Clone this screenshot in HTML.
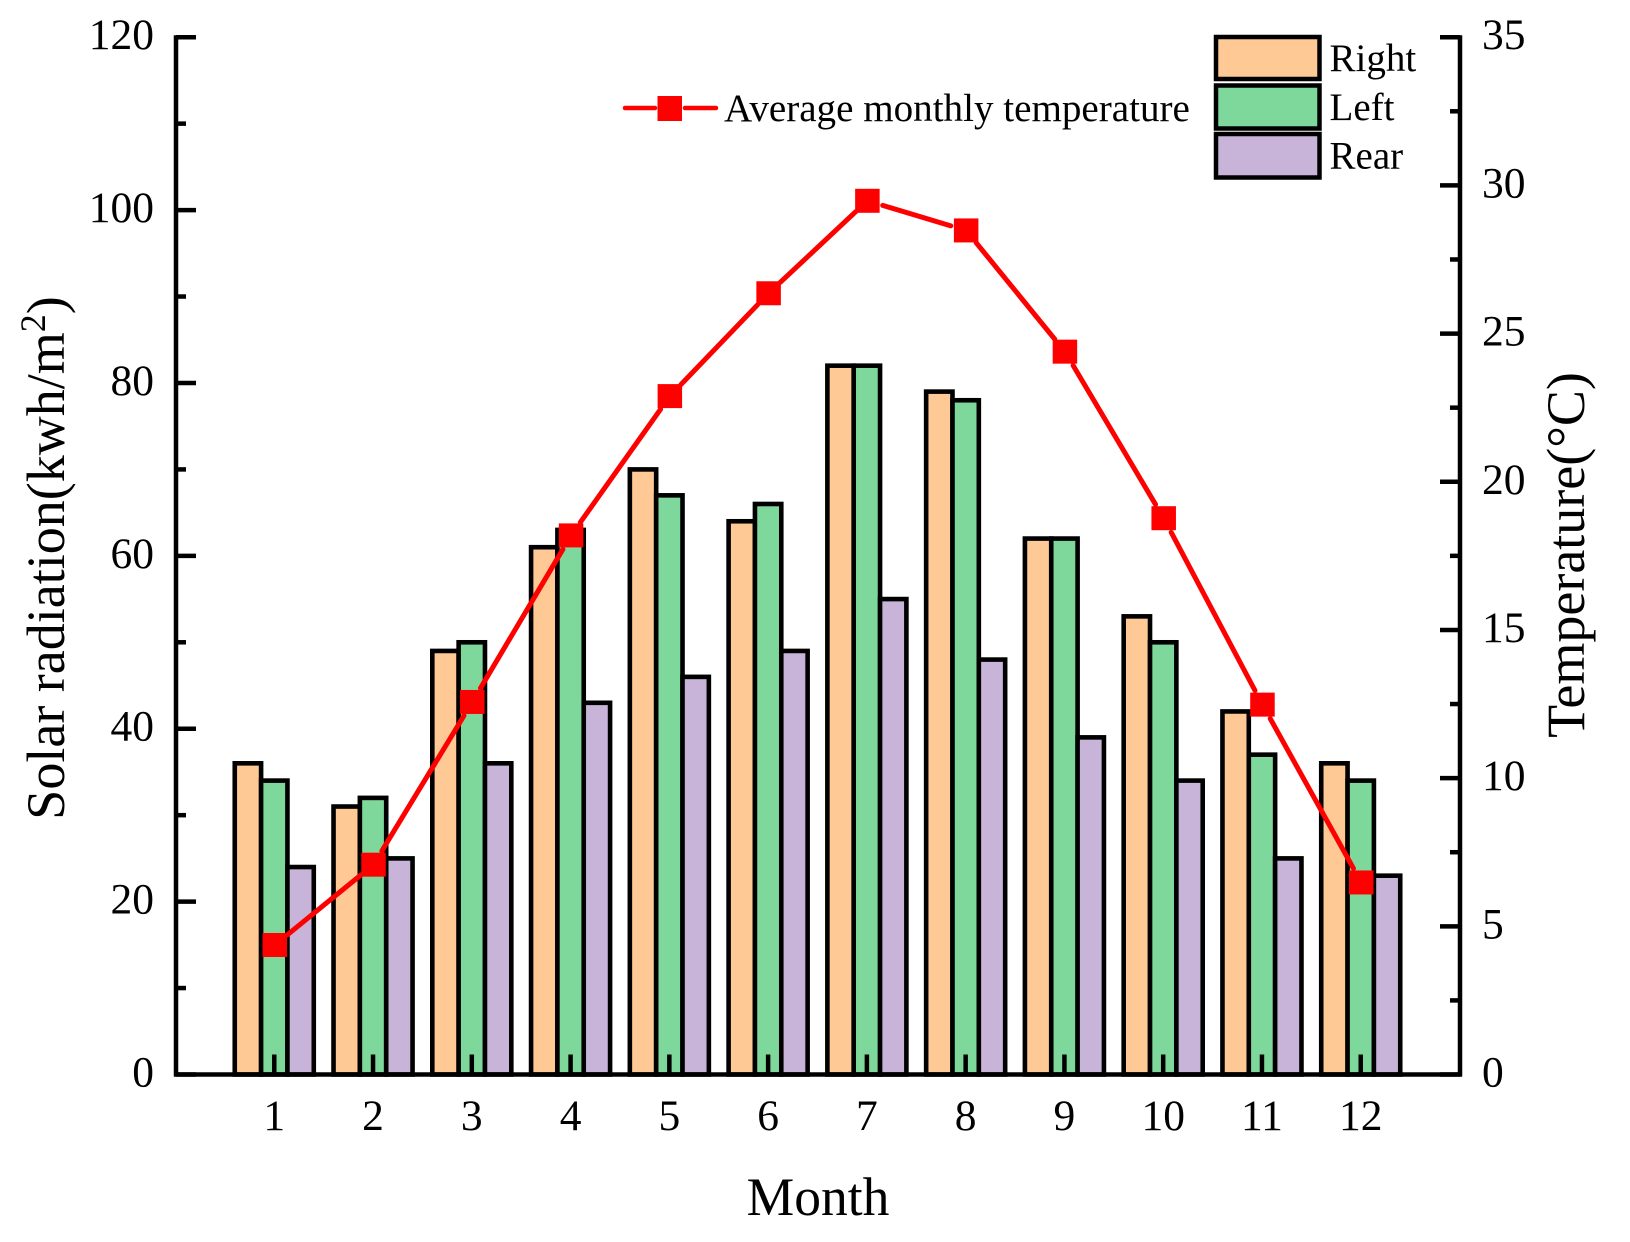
<!DOCTYPE html>
<html lang="en">
<head>
<meta charset="utf-8">
<title>Solar radiation and temperature by month</title>
<style>
html,body{margin:0;padding:0;background:#fff;}
svg{display:block;font-family:"Liberation Serif",serif;fill:#000;}
</style>
</head>
<body>
<svg id="chart" xmlns="http://www.w3.org/2000/svg" width="1630" height="1242" viewBox="0 0 1630 1242">
<rect x="0" y="0" width="1630" height="1242" fill="#ffffff"/>
<g id="bars"></g>
<g id="xticks"></g>
<g id="line"></g>
<g id="axes"></g>
<g>
  <g>
    <line x1="625" y1="108" x2="655" y2="108" stroke="#ff0000" stroke-width="4.5" stroke-linecap="round"/>
    <line x1="685" y1="108" x2="716" y2="108" stroke="#ff0000" stroke-width="4.5" stroke-linecap="round"/>
    <rect x="657.5" y="96" width="24.5" height="25" fill="#ff0000"/>
    <text x="724" y="121" font-size="39.1">Average monthly temperature</text>
  </g>
  <g>
    <rect x="1216" y="37" width="103.5" height="42" fill="#FEC995" stroke="#000" stroke-width="4.5"/>
    <text x="1329.5" y="71" font-size="39">Right</text>
  </g>
  <g>
    <rect x="1216" y="85.5" width="103.5" height="43" fill="#7FD89B" stroke="#000" stroke-width="4.5"/>
    <text x="1329.5" y="120" font-size="39">Left</text>
  </g>
  <g>
    <rect x="1216" y="134" width="103.5" height="43.5" fill="#C8B4D8" stroke="#000" stroke-width="4.5"/>
    <text x="1329.5" y="168.5" font-size="39">Rear</text>
  </g>
</g>
<text x="818" y="1215" font-size="53.5" text-anchor="middle">Month</text>
<text transform="translate(64 558) rotate(-90)" font-size="54" text-anchor="middle">Solar radiation(kwh/m<tspan dy="-19" font-size="36">2</tspan><tspan dy="19">)</tspan></text>
<text transform="translate(1584 555) rotate(-90)" font-size="54" text-anchor="middle">Temperature(°C)</text>
</svg>
<script>
var months = [1, 2, 3, 4, 5, 6, 7, 8, 9, 10, 11, 12];
var rightValues = [36, 31, 49, 61, 70, 64, 82, 79, 62, 53, 42, 36];
var leftValues = [34, 32, 50, 63, 67, 66, 82, 78, 62, 50, 37, 34];
var rearValues = [24, 25, 36, 43, 46, 49, 55, 48, 39, 34, 25, 23];
var temperatureValues = [4.37, 7.08, 12.57, 18.19, 22.89, 26.36, 29.48, 28.48, 24.39, 18.77, 12.48, 6.48];
var radiationTicks = [0, 20, 40, 60, 80, 100, 120];
var radiationMinorTicks = [10, 30, 50, 70, 90, 110];
var temperatureTicks = [0, 5, 10, 15, 20, 25, 30, 35];
var temperatureMinorTicks = [2.5, 7.5, 12.5, 17.5, 22.5, 27.5, 32.5];

var NS = 'http://www.w3.org/2000/svg';
var L = 176, R = 1460, T = 37.2, B = 1074.5;
function xScale(v) { return L + (v / 13) * (R - L); }
function yLeft(v) { return B - (v / 120) * (B - T); }
function yRight(v) { return B - (v / 35) * (B - T); }
function make(tag, parent, attrs) {
  var el = document.createElementNS(NS, tag);
  for (var k in attrs) { el.setAttribute(k, attrs[k]); }
  parent.appendChild(el);
  return el;
}
var barsG = document.getElementById('bars');
var xticksG = document.getElementById('xticks');
var lineG = document.getElementById('line');
var axesG = document.getElementById('axes');
var barWidth = (0.8 / 3) * (R - L) / 13;

function drawSeries(values, index, color, seriesName) {
  values.forEach(function (v, i) {
    var x0 = xScale(months[i]) - 1.5 * barWidth + index * barWidth - 0.5;
    var y0 = yLeft(v);
    var bar = make('rect', barsG, { x: x0, y: y0, width: barWidth, height: B - y0, fill: color, stroke: '#000', 'stroke-width': 4.6 });
    
    
  });
}
drawSeries(rightValues, 0, '#FEC995', 'right');
drawSeries(leftValues, 1, '#7FD89B', 'left');
drawSeries(rearValues, 2, '#C8B4D8', 'rear');

months.forEach(function (m) {
  var tick = make('line', xticksG, { x1: xScale(m) - 0.5, x2: xScale(m) - 0.5, y1: B, y2: B - 20, stroke: '#000', 'stroke-width': 4.5 });
  
  
  var label = make('text', xticksG, { x: xScale(m) - 0.5, y: 1130, 'font-size': 43.5, 'text-anchor': 'middle' });
  label.textContent = String(m);
  
  
});

var gap = 16;
temperatureValues.forEach(function (v, i) {
  if (i === temperatureValues.length - 1) { return; }
  var ax = xScale(months[i]), ay = yRight(v);
  var bx = xScale(months[i + 1]), by = yRight(temperatureValues[i + 1]);
  var d = Math.sqrt((bx - ax) * (bx - ax) + (by - ay) * (by - ay));
  var ux = (bx - ax) / d, uy = (by - ay) / d;
  var seg = make('line', lineG, { x1: ax + ux * gap, y1: ay + uy * gap, x2: bx - ux * gap, y2: by - uy * gap, stroke: '#ff0000', 'stroke-width': 5, 'stroke-linecap': 'round' });
  
  
});
temperatureValues.forEach(function (v, i) {
  var pt = make('rect', lineG, { x: xScale(months[i]) - 12.25, y: yRight(v) - 12, width: 24.5, height: 24, fill: '#ff0000' });
  
  
});

var leftAxis = make('line', axesG, { x1: L, y1: T - 2, x2: L, y2: B + 2, stroke: '#000', 'stroke-width': 4.5 });


var rightAxis = make('line', axesG, { x1: R, y1: T - 2, x2: R, y2: B + 2, stroke: '#000', 'stroke-width': 4.5 });


var bottomAxis = make('line', axesG, { x1: L - 2, y1: B, x2: R + 2, y2: B, stroke: '#000', 'stroke-width': 4.5 });



radiationTicks.forEach(function (v) {
  var t = make('line', axesG, { x1: L, x2: L + 20, y1: yLeft(v), y2: yLeft(v), stroke: '#000', 'stroke-width': 4.5 });
  
  
  var label = make('text', axesG, { x: 154, y: yLeft(v) + 12, 'font-size': 43.5, 'text-anchor': 'end' });
  label.textContent = String(v);
  
  
});
radiationMinorTicks.forEach(function (v) {
  var t = make('line', axesG, { x1: L, x2: L + 10, y1: yLeft(v), y2: yLeft(v), stroke: '#000', 'stroke-width': 4.5 });
  
  
});
temperatureTicks.forEach(function (v) {
  var t = make('line', axesG, { x1: R, x2: R - 20, y1: yRight(v), y2: yRight(v), stroke: '#000', 'stroke-width': 4.5 });
  
  
  var label = make('text', axesG, { x: 1482, y: yRight(v) + 12, 'font-size': 43.5 });
  label.textContent = String(v);
  
  
});
temperatureMinorTicks.forEach(function (v) {
  var t = make('line', axesG, { x1: R, x2: R - 10, y1: yRight(v), y2: yRight(v), stroke: '#000', 'stroke-width': 4.5 });
  
  
});
</script>
</body>
</html>
